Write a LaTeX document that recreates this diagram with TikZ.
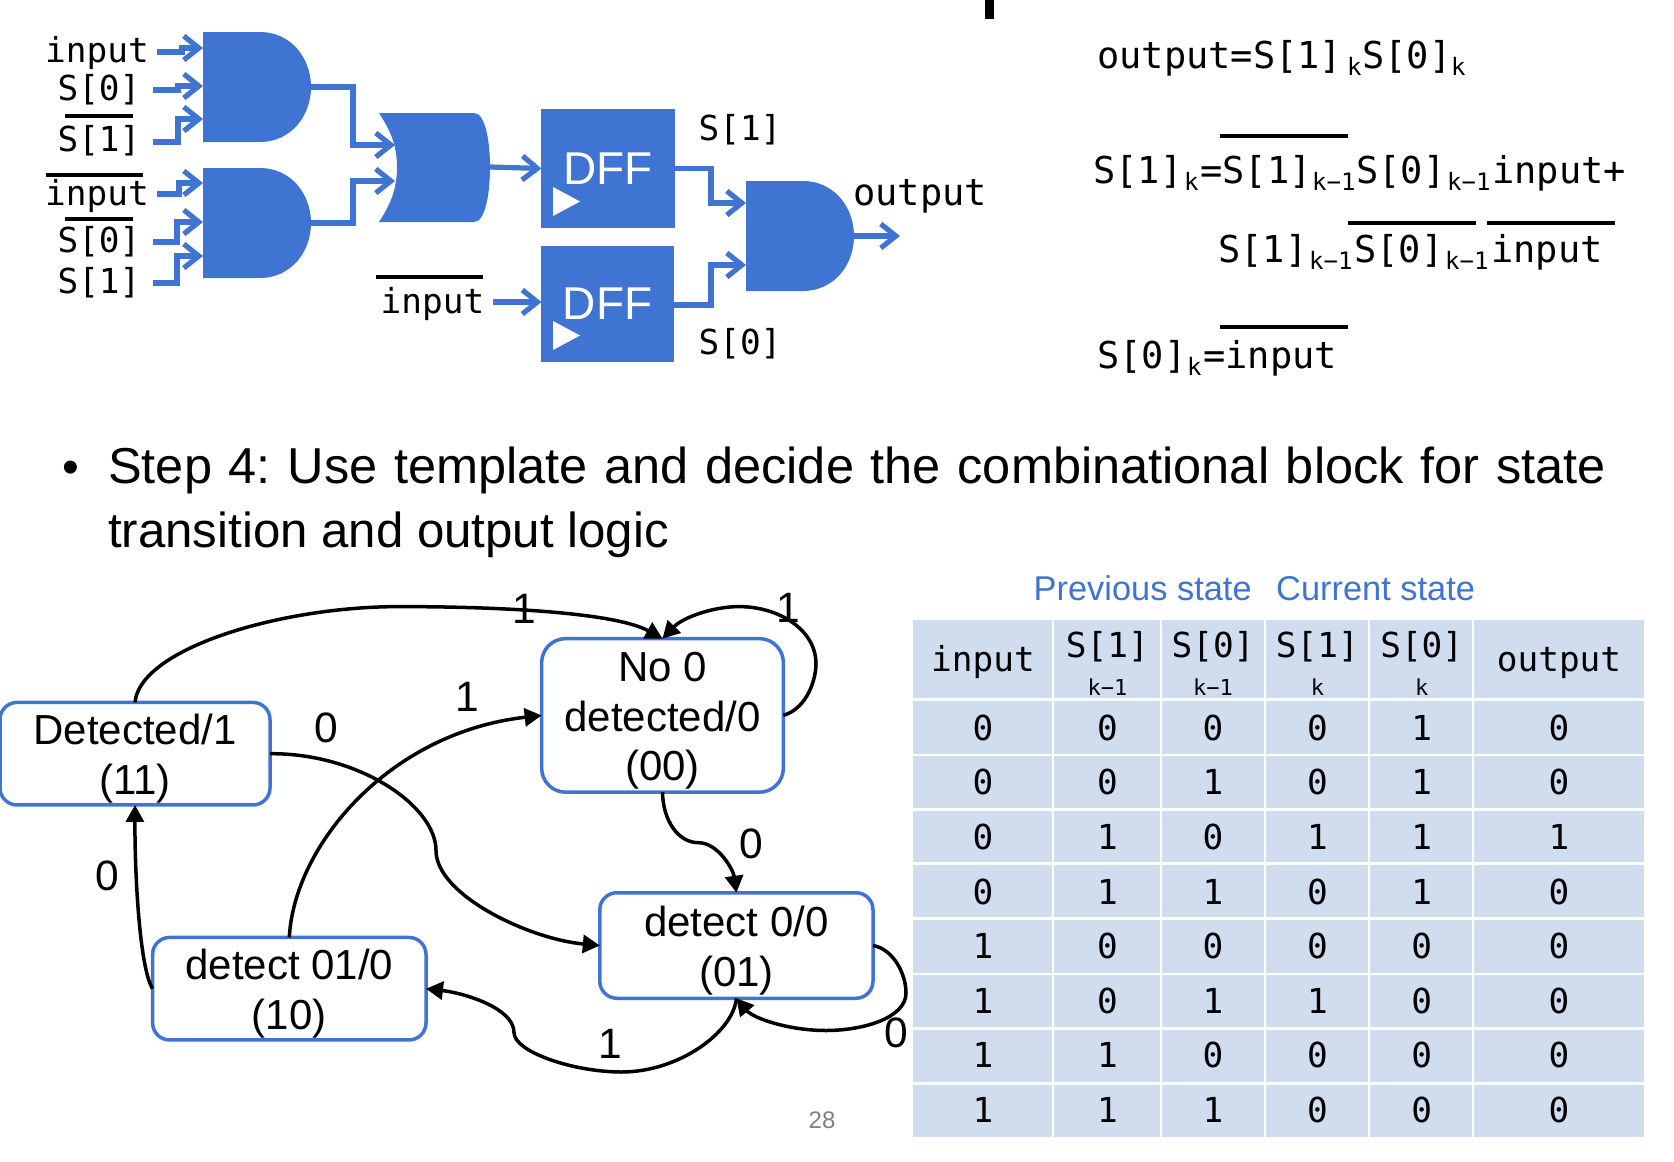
\documentclass[tikz,border=0pt]{standalone}
\usepackage{fontspec}
\setmainfont{Liberation Sans}
\setmonofont{DejaVu Sans Mono}
\usetikzlibrary{arrows.meta}
\definecolor{gateblue}{HTML}{3F74D2}
\definecolor{cellblue}{HTML}{D0DDEE}
\definecolor{pagegray}{HTML}{808080}
\tikzset{
	wire/.style={draw=gateblue, line width=5.2pt, -{Straight Barb[length=15pt,width=24pt]}},
	gatefill/.style={fill=gateblue},
	dffbox/.style={fill=gateblue, inner sep=0pt, outer sep=0pt, text=white, font=\fontsize{46}{46}\selectfont},
	statebox/.style={draw=gateblue, line width=3.5pt, rounded corners=17pt, inner sep=0pt, outer sep=0pt, align=center, font=\fontsize{42}{49.8}\selectfont},
	edge/.style={draw=black, line width=3.5pt, -{Triangle[length=17pt,width=18pt]}},
	edgelabel/.style={inner sep=0pt, font=\fontsize{42.5}{42.5}\selectfont},
	mono/.style={inner sep=0pt, anchor=base, font=\ttfamily\fontsize{34.4}{34.4}\selectfont},
	monobig/.style={inner sep=0pt, anchor=base, font=\ttfamily\fontsize{37}{37}\selectfont},
	eqmain/.style={inner sep=0pt, anchor=base west, font=\ttfamily\fontsize{37}{37}\selectfont},
	eqsub/.style={inner sep=0pt, anchor=base west, font=\ttfamily\fontsize{24}{24}\selectfont},
	barline/.style={line width=3.5pt},
	cellnum/.style={inner sep=0pt, font=\ttfamily\fontsize{34.4}{34.4}\selectfont},
	cellsub/.style={inner sep=0pt, anchor=base, font=\ttfamily\fontsize{22}{22}\selectfont},
	headtext/.style={inner sep=0pt, anchor=base west, text=gateblue, font=\fontsize{34.4}{34.4}\selectfont},
}
\newcommand{\andgate}[3]{
	\fill[gatefill] (#2,#3) -- (#2+57,#3) .. controls (#2+87,#3) and (#2+108,#3+25) .. (#2+108,#3+55) .. controls (#2+108,#3+85) and (#2+87,#3+110) .. (#2+57,#3+110) -- (#2,#3+110) -- cycle;
	\coordinate (#1) at (#2+108,#3+55);
}
\newcommand{\lift}{\rule{0pt}{40pt}}
\begin{document}
\begin{tikzpicture}[x=1pt, y=-1pt]
		\useasboundingbox (0,0) rectangle (1674,1162);
		\fill (985,0) rectangle (994,19);
		\andgate{andA}{203}{32}
		\andgate{andB}{203}{168}
		\andgate{andC}{746}{181}
		\fill[gatefill] (379,113) -- (474,113) .. controls (485,113) and (490,140) .. (490,167) .. controls (490,195) and (485,222) .. (474,222) -- (379,222) .. controls (390,205) and (397,190) .. (397,167) .. controls (397,145) and (390,130) .. (379,113) -- cycle;
		\coordinate (orIn1) at (395,145);
		\coordinate (orIn2) at (395,181);
		\coordinate (orOut) at (490,167);
		\node[dffbox, minimum width=133.5pt, minimum height=119pt] (dffA) at (608.2,168.5) {DFF};
		\node[dffbox, minimum width=132.5pt, minimum height=116pt] (dffB) at (607.7,304) {DFF};
		\fill[white] (553,187) -- (580,201.5) -- (553,216) -- cycle;
		\fill[white] (553,321) -- (580,335.5) -- (553,350) -- cycle;
		\node[mono] (inA) at (97,62) {input};
		\node[mono] (sA) at (99,100) {S[0]};
		\node[mono] (sB) at (99,151.5) {S[1]};
		\node[mono] (inB) at (97,205) {input};
		\node[mono] (sC) at (99,252) {S[0]};
		\node[mono] (sD) at (99,293) {S[1]};
		\node[mono] (inC) at (432.5,313) {input};
		\node[mono] (sOne) at (740,140) {S[1]};
		\node[mono] (sZero) at (740,354) {S[0]};
		\node[monobig] (outLbl) at (920,205) {output};
		\draw[barline] (65,116) -- (133,116);
		\draw[barline] (46,175) -- (143,175);
		\draw[barline] (65,219) -- (133,219);
		\draw[barline] (376,277) -- (483,277);
		\draw[wire] ([xshift=8pt]inA.east |- 0,52) -- (182,52) |- (203,48);
		\draw[wire] ([xshift=12pt]sA.east |- 0,90) -- (178,90) |- (203,86);
		\draw[wire] ([xshift=12pt]sB.east |- 0,142) -- (178,142) |- (203,119);
		\draw[wire] ([xshift=8pt]inB.east |- 0,194) -- (179,194) |- (203,183);
		\draw[wire] ([xshift=12pt]sC.east |- 0,242) -- (177,242) |- (203,222);
		\draw[wire] ([xshift=12pt]sD.east |- 0,283) -- (177,283) |- (203,256);
		\draw[wire] (andA) -| (353,145) -- (orIn1);
		\draw[wire] (andB) -| (353,181) -- (orIn2);
		\draw[wire] (orOut) -- (dffA.west);
		\draw[wire] ([xshift=9pt]inC.east |- 0,302) -- (dffB.west |- 0,302);
		\draw[wire] (dffA.east) -| (711,203) -- (746,203);
		\draw[wire] ([yshift=-1pt]dffB.east) -| (711,265) -- (746,265);
		\draw[wire] (andC) -- (900,236);
		\node[eqmain] (eqA) at (1097,68) {output=S[1]};
		\node[eqsub] (eqAk) at (1347,75) {k};
		\node[eqmain] (eqB) at (1362,68) {S[0]};
		\node[eqsub] (eqBk) at (1451,75) {k};
		\node[eqmain] (eqC) at (1093,183) {S[1]};
		\node[eqsub] (eqCk) at (1184,190) {k};
		\node[eqmain] (eqD) at (1200,183) {=S[1]};
		\node[eqsub] (eqDk) at (1312,190) {k−1};
		\node[eqmain] (eqE) at (1356,183) {S[0]};
		\node[eqsub] (eqEk) at (1447,190) {k−1};
		\node[eqmain] (eqF) at (1492,183) {input+};
		\node[eqmain] (eqG) at (1218,262) {S[1]};
		\node[eqsub] (eqGk) at (1309,269) {k−1};
		\node[eqmain] (eqH) at (1354,262) {S[0]};
		\node[eqsub] (eqHk) at (1445,269) {k−1};
		\node[eqmain] (eqI) at (1491,262) {input};
		\node[eqmain] (eqJ) at (1097,368) {S[0]};
		\node[eqsub] (eqJk) at (1187,375) {k};
		\node[eqmain] (eqK) at (1203,368) {=input};
		\draw[barline] (1220,136) -- (1348,136);
		\draw[barline] (1348,223) -- (1476,223);
		\draw[barline] (1487,223) -- (1615,223);
		\draw[barline] (1220,327) -- (1348,327);
		\node[inner sep=0pt, anchor=base, font=\fontsize{48}{48}\selectfont] (bullet) at (71,483) {•};
		\node[inner sep=0pt, anchor=base west, font=\fontsize{50.5}{50.5}\selectfont] (stepA) at (108,483) {\frenchspacing\spaceskip=16.7pt Step 4: Use template and decide the combinational block for state};
		\node[inner sep=0pt, anchor=base west, font=\fontsize{49.2}{49.2}\selectfont] (stepB) at (108,547) {transition and output logic};
		\node[statebox, minimum width=270pt, minimum height=102.5pt] (detected) at (135,753.7) {\lift Detected/1\\(11)};
		\node[statebox, rounded corners=24pt, minimum width=241.7pt, minimum height=153.6pt] (noZero) at (662.5,715.4) {\lift No 0\\detected/0\\(00)};
		\node[statebox, minimum width=273.2pt, minimum height=105.5pt] (detZero) at (736.4,945.5) {\lift detect 0/0\\(01)};
		\node[statebox, minimum width=273.4pt, minimum height=102.5pt] (detOne) at (289.3,988.7) {\lift detect 01/0\\(10)};
		\draw[edge] (detected.north) .. controls (139.7,649) and (279,606.6) .. (399,606.6) .. controls (519,606.6) and (618.6,614.4) .. (noZero.north);
		\draw[edge] (noZero.east) .. controls (808,708) and (816,678) .. (816,664) .. controls (816,629) and (778,606.6) .. (739,606.6) .. controls (713,606.6) and (683,617.4) .. (noZero.north);
		\draw[edge] (detected.east) .. controls (359,753) and (436,806) .. (436,850.5) .. controls (436,895) and (529,939) .. (detZero.west);
		\draw[edge] (detOne.north) .. controls (294,845.6) and (389,732.5) .. (noZero.west);
		\draw[edge] (noZero.south) .. controls (663,821) and (678.4,842.7) .. (698.4,842.7) .. controls (718.3,842.7) and (733.3,870) .. (detZero.north);
		\draw[edge] (detZero.east) .. controls (893,949) and (906,973.5) .. (906,993) .. controls (906,1018) and (863,1030.5) .. (826,1030.5) .. controls (788,1030.5) and (753,1018) .. (detZero.south);
		\draw[edge] (detZero.south) .. controls (733.3,1032.5) and (678.4,1072) .. (621.6,1072) .. controls (573.7,1072) and (514,1052) .. (514,1032.5) .. controls (514,1008) and (464,993) .. (detOne.east);
		\draw[edge] (detOne.west) .. controls (139.7,968.6) and (134.7,875) .. (detected.south);
		\node[edgelabel] (lblA) at (524,609) {1};
		\node[edgelabel] (lblB) at (788,607.5) {1};
		\node[edgelabel] (lblC) at (467.6,697) {1};
		\node[edgelabel] (lblD) at (326.6,728) {0};
		\node[edgelabel] (lblE) at (751.6,843.5) {0};
		\node[edgelabel] (lblF) at (107.7,875.5) {0};
		\node[edgelabel] (lblG) at (610.7,1044) {1};
		\node[edgelabel] (lblH) at (896,1032.5) {0};
		\node[inner sep=0pt, text=pagegray, font=\fontsize{24}{24}\selectfont] (pageNum) at (822,1120) {28};
		\node[headtext] (headPrev) at (1033.5,600) {Previous state};
		\node[headtext] (headCur) at (1276,600) {Current state};
		\fill[cellblue] (912.5,619.8) rectangle (1643.5,1137);
		\foreach \gx in {1052.8,1161,1265,1369,1473} \draw[white, line width=2.5pt] (\gx,619.8) -- (\gx,1137);
		\foreach \gy in {699.5,755,809.7,863.7,918.4,974,1028.7,1083.4} \draw[white, line width=2.5pt] (912.5,\gy) -- (1643.5,\gy);
		\node[mono] (hdInput) at (983,671) {input};
		\node[mono] (hdOutput) at (1559,671) {output};
		\node[mono] (hdA) at (1107.4,657.6) {S[1]};
		\node[mono] (hdB) at (1213,657.6) {S[0]};
		\node[mono] (hdC) at (1317.4,657.6) {S[1]};
		\node[mono] (hdD) at (1421.7,657.6) {S[0]};
		\node[cellsub] (subA) at (1107.4,695) {k−1};
		\node[cellsub] (subB) at (1213,695) {k−1};
		\node[cellsub] (subC) at (1317.4,695) {k};
		\node[cellsub] (subD) at (1421.7,695) {k};
		\foreach \r/\va/\vb/\vc/\vd/\ve/\vf in {1/0/0/0/0/1/0, 2/0/0/1/0/1/0, 3/0/1/0/1/1/1, 4/0/1/1/0/1/0, 5/1/0/0/0/0/0, 6/1/0/1/1/0/0, 7/1/1/0/0/0/0, 8/1/1/1/0/0/0} {
			\node[cellnum] (c\r a) at (983,{727.8+54.6*(\r-1)}) {\va};
			\node[cellnum] (c\r b) at (1107.4,{727.8+54.6*(\r-1)}) {\vb};
			\node[cellnum] (c\r c) at (1213,{727.8+54.6*(\r-1)}) {\vc};
			\node[cellnum] (c\r d) at (1317.4,{727.8+54.6*(\r-1)}) {\vd};
			\node[cellnum] (c\r e) at (1421.7,{727.8+54.6*(\r-1)}) {\ve};
			\node[cellnum] (c\r f) at (1559,{727.8+54.6*(\r-1)}) {\vf};
		}
\end{tikzpicture}
\end{document}
